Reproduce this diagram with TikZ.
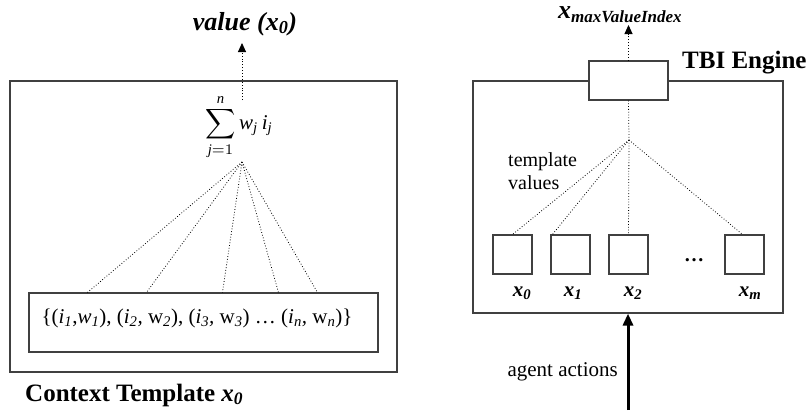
\documentclass[tikz,border=0pt]{standalone}
\usepackage{fontspec}
\setmainfont{Liberation Serif}
\usepackage{graphicx}
\usetikzlibrary{arrows.meta,calc}

\tikzset{
  frame/.style={draw=black!75, line width=1.1pt, inner sep=0pt},
  cell/.style={draw=black!75, line width=1.1pt, minimum width=39pt, minimum height=39pt, inner sep=0pt},
  fan/.style={dotted, line width=0.8pt},
  uparrow/.style={dotted, line width=0.9pt, -{Triangle[length=9pt,width=8pt]}},
  bigarrow/.style={line width=3pt, -{Triangle[length=12pt,width=10pt]}},
  lbl/.style={inner sep=0pt, font=\fontsize{21}{24}\selectfont},
  bold/.style={inner sep=0pt, font=\fontsize{25}{29}\selectfont\bfseries},
}
\newcommand{\bix}[1]{\textbf{\textit{x}}\textsubscript{\textbf{\textit{#1}}}}

\begin{document}
\begin{tikzpicture}[x=1pt,y=-1pt]
\useasboundingbox (0,0) rectangle (810,413);

% ---------- left: context template ----------
\node[frame, minimum width=387pt, minimum height=291pt] (ctx) at (203.5,226.5) {};
\node[frame, minimum width=349pt, minimum height=59pt] (pairbox) at (203.5,322.5) {};
\node[lbl] (pairs) at (197,318)
  {\{(\textit{i\textsubscript{1}},\textit{w\textsubscript{1}}), (\textit{i\textsubscript{2},} w\textsubscript{\textit{2}}), (\textit{i\textsubscript{3},} w\textsubscript{\textit{3}}) \dots{} (\textit{i\textsubscript{n},} w\textsubscript{\textit{n}})\}};

\node[inner sep=0pt] (sum) at (239,127)
  {\scalebox{2.1}{$\displaystyle\sum_{\mathit{j}=1}^{\mathit{n}} \mathit{w}_{\mathit{j}}\,\mathit{i}_{\mathit{j}}$}};

\coordinate (apex) at (242,162);
\coordinate (sumtop) at (242,100);
\foreach \dx [count=\k] in {59,118,194,250,289} {
  \coordinate (p\k) at ($(pairbox.north west)+(\dx,0)$);
  \draw[fan] (apex) -- (p\k);
}

\node[inner sep=0pt, font=\fontsize{26}{30}\selectfont\bfseries\itshape] (value) at (245,24)
  {value (\textit{x}\textsubscript{0})};
\coordinate (valtip) at (242,43);
\draw[uparrow] (sumtop) -- (valtip);

\node[bold, anchor=west] (ctxlabel) at (25,395) {Context Template \textit{x}\textsubscript{\textit{0}}};

% ---------- right: TBI engine ----------
\node[frame, minimum width=310pt, minimum height=232pt] (engine) at (628,197) {};
\node[frame, fill=white, minimum width=79pt, minimum height=39pt] (tbi) at (628.5,80.5) {};
\node[bold, anchor=west] (tbilabel) at (682,63) {TBI Engine};

\node[inner sep=0pt, anchor=base west] (xmax) at (558,18)
  {{\fontsize{26}{30}\selectfont\bfseries\itshape x}\raisebox{-4pt}{\fontsize{17}{20}\selectfont\bfseries\itshape maxValueIndex}};
\draw[uparrow] (tbi.north) -- (tbi.north |- 0,25);

\coordinate (hub) at (629,140);
\draw[fan] (tbi.south) -- (hub);

\node[cell] (c0) at (512.5,254.5) {};
\node[cell] (c1) at (570.5,254.5) {};
\node[cell] (c2) at (628.5,254.5) {};
\node[cell] (cm) at (744.5,254.5) {};
\node[inner sep=0pt, font=\fontsize{20}{24}\selectfont\bfseries] (dots) at (694,260) {\dots};

\draw[fan] (hub) -- (c0.north);
\draw[fan] (hub) -- ($(c1.north west)+(2,0)$);
\draw[fan] (hub) -- (c2.north);
\draw[fan] (hub) -- ($(cm.north)+(-2,0)$);

\node[lbl, align=left, anchor=west, font=\fontsize{20}{23}\selectfont] (tv) at (508,171) {template\\values};

\node[lbl] (x0) at (522,293) {\bix{0}};
\node[lbl] (x1) at (573,293) {\bix{1}};
\node[lbl] (x2) at (633,293) {\bix{2}};
\node[lbl] (xm) at (750,293) {\bix{m}};

\coordinate (actsrc) at (628,410);
\draw[bigarrow] (actsrc) -- (engine.south -| actsrc);
\node[lbl, anchor=east] (acts) at (618,372) {agent actions};
\end{tikzpicture}
\end{document}
